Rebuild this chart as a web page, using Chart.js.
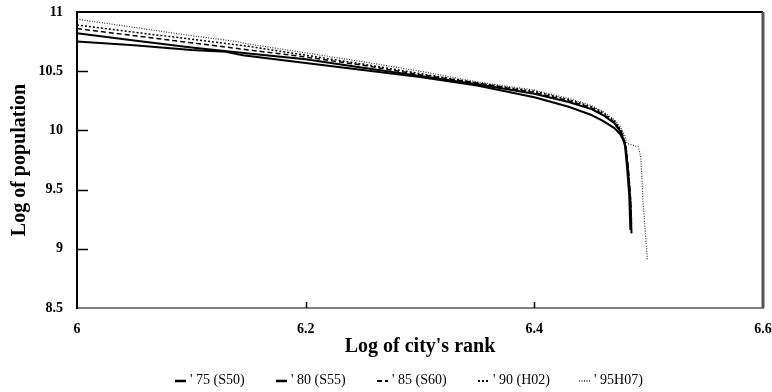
<!DOCTYPE html>
<html>
<head>
<meta charset="utf-8">
<script src="https://cdn.jsdelivr.net/npm/chart.js@4.4.1/dist/chart.umd.min.js"></script>
<style>
  html, body { margin: 0; padding: 0; background: #fff; }
  #wrap { width: 772px; height: 392px; }
</style>
</head>
<body>
<div id="wrap"><canvas id="rankChart" width="772" height="392"></canvas></div>
<script>
// log(rank) / log(population), one pair of arrays per year
const seriesLabels = ["' 75 (S50)", "' 80 (S55)", "' 85 (S60)", "' 90 (H02)", "' 95H07)"];

const rank75 = [6.00, 6.05, 6.10, 6.13, 6.145, 6.20, 6.25, 6.30, 6.35, 6.40, 6.43, 6.45, 6.46, 6.47, 6.475, 6.479, 6.481, 6.483, 6.484];
const pop75  = [10.75, 10.72, 10.68, 10.665, 10.635, 10.57, 10.51, 10.45, 10.38, 10.28, 10.20, 10.13, 10.08, 10.02, 9.97, 9.90, 9.70, 9.45, 9.16];

const rank80 = [6.00, 6.05, 6.10, 6.15, 6.20, 6.25, 6.30, 6.35, 6.40, 6.43, 6.45, 6.46, 6.47, 6.476, 6.48, 6.482, 6.484, 6.485];
const pop80  = [10.82, 10.76, 10.70, 10.65, 10.60, 10.53, 10.46, 10.39, 10.31, 10.24, 10.18, 10.13, 10.06, 9.98, 9.85, 9.65, 9.40, 9.13];

const rank85 = [6.00, 6.05, 6.10, 6.15, 6.20, 6.25, 6.30, 6.35, 6.40, 6.43, 6.45, 6.46, 6.47, 6.476, 6.48, 6.482, 6.484, 6.485];
const pop85  = [10.86, 10.80, 10.74, 10.68, 10.62, 10.55, 10.47, 10.40, 10.32, 10.25, 10.19, 10.14, 10.07, 9.99, 9.87, 9.70, 9.45, 9.20];

const rank90 = [6.00, 6.05, 6.10, 6.15, 6.20, 6.25, 6.30, 6.35, 6.40, 6.43, 6.45, 6.46, 6.47, 6.476, 6.48, 6.482, 6.484, 6.485];
const pop90  = [10.89, 10.83, 10.77, 10.71, 10.635, 10.56, 10.48, 10.40, 10.33, 10.26, 10.20, 10.15, 10.08, 10.00, 9.88, 9.70, 9.45, 9.25];

const rank95 = [6.00, 6.05, 6.10, 6.14, 6.15, 6.20, 6.25, 6.30, 6.35, 6.40, 6.43, 6.45, 6.46, 6.47, 6.475, 6.479, 6.481, 6.491, 6.493, 6.494, 6.495, 6.497, 6.499];
const pop95  = [10.94, 10.87, 10.80, 10.75, 10.73, 10.655, 10.58, 10.50, 10.41, 10.34, 10.27, 10.21, 10.16, 10.09, 10.03, 9.96, 9.89, 9.86, 9.78, 9.62, 9.40, 9.15, 8.90];

const xTicks = [6, 6.2, 6.4, 6.6];
const yTicks = [8.5, 9, 9.5, 10, 10.5, 11];

function toPoints(xs, ys) {
    return xs.map((x, i) => ({ x: x, y: ys[i] }));
}

const serifBold = { family: '"Liberation Serif", "DejaVu Serif", serif', weight: 'bold' };

// short tick marks pointing into the plot, plus the top/right frame
const frameTicks = {
    id: 'frameTicks',
    afterDraw(chart) {
        const { ctx, chartArea: a, scales } = chart;
        ctx.save();
        ctx.strokeStyle = '#000';
        ctx.lineWidth = 1.5;
        yTicks.forEach(v => {
            if (v === 11 || v === 8.5) return;
            const y = Math.round(scales.y.getPixelForValue(v)) + 0.5;
            ctx.beginPath();
            ctx.moveTo(a.left, y);
            ctx.lineTo(a.left + 11, y);
            ctx.stroke();
        });
        xTicks.forEach(v => {
            if (v === 6 || v === 6.6) return;
            const x = Math.round(scales.x.getPixelForValue(v)) + 0.5;
            ctx.beginPath();
            ctx.moveTo(x, a.bottom);
            ctx.lineTo(x, a.bottom - 6);
            ctx.stroke();
        });
        // top border
        ctx.lineWidth = 2;
        ctx.beginPath();
        ctx.moveTo(a.left, a.top);
        ctx.lineTo(a.right, a.top);
        ctx.stroke();
        // right border, greyish and heavy
        ctx.strokeStyle = '#555';
        ctx.lineWidth = 3;
        ctx.beginPath();
        ctx.moveTo(a.right, a.top);
        ctx.lineTo(a.right, a.bottom);
        ctx.stroke();
        ctx.restore();
    }
};

// legend row under the axis title
const bottomLegend = {
    id: 'bottomLegend',
    afterDraw(chart) {
        const ctx = chart.ctx;
        ctx.save();
        ctx.font = '14px "Liberation Serif", serif';
        ctx.textBaseline = 'middle';
        ctx.textAlign = 'left';
        chart.data.datasets.forEach((ds, i) => {
            const x = 175 + i * 101;
            const y = 380;
            ctx.beginPath();
            ctx.setLineDash(ds.borderDash || []);
            ctx.lineWidth = ds.borderWidth + 0.5;
            ctx.strokeStyle = ds.borderColor;
            ctx.moveTo(x, y + 1);
            ctx.lineTo(x + 11, y + 1);
            ctx.stroke();
            ctx.setLineDash([]);
            ctx.fillStyle = '#000';
            ctx.fillText(ds.label, x + 15, y);
        });
        ctx.restore();
    }
};

const chartCanvas = document.getElementById('rankChart');

new Chart(chartCanvas.getContext('2d'), {
    type: 'line',
    data: {
        datasets: [
            { label: seriesLabels[0], data: toPoints(rank75, pop75), borderColor: '#000', borderWidth: 2 },
            { label: seriesLabels[1], data: toPoints(rank80, pop80), borderColor: '#000', borderWidth: 2 },
            { label: seriesLabels[2], data: toPoints(rank85, pop85), borderColor: '#000', borderWidth: 1.5, borderDash: [5, 3] },
            { label: seriesLabels[3], data: toPoints(rank90, pop90), borderColor: '#000', borderWidth: 1.5, borderDash: [2, 2] },
            { label: seriesLabels[4], data: toPoints(rank95, pop95), borderColor: '#333', borderWidth: 1.2, borderDash: [1, 1.5] }
        ]
    },
    options: {
        responsive: false,
        animation: false,
        devicePixelRatio: 1,
        layout: { padding: { left: 0, right: 9, top: 12, bottom: 0 } },
        elements: {
            point: { radius: 0 },
            line: { tension: 0, fill: false }
        },
        plugins: {
            legend: { display: false },
            tooltip: { enabled: false }
        },
        scales: {
            x: {
                type: 'linear',
                min: 6,
                max: 6.6,
                afterFit(scale) {
                    scale.height = 84;
                    scale.paddingLeft = 0;
                    scale.paddingRight = 0;
                },
                afterBuildTicks(scale) { scale.ticks = xTicks.map(v => ({ value: v })); },
                grid: { display: false, drawTicks: false },
                border: { display: true, color: '#808080', width: 2 },
                ticks: {
                    padding: 13,
                    color: '#000',
                    font: { ...serifBold, size: 14 },
                    maxRotation: 0,
                    callback: v => String(Math.round(v * 10) / 10)
                },
                title: {
                    display: true,
                    text: "Log of city's rank",
                    color: '#000',
                    font: { ...serifBold, size: 20 },
                    padding: { top: 0, bottom: 33 }
                }
            },
            y: {
                min: 8.5,
                max: 11,
                afterFit(scale) {
                    scale.width = 77;
                    scale.paddingTop = 0;
                    scale.paddingBottom = 0;
                },
                afterBuildTicks(scale) { scale.ticks = yTicks.map(v => ({ value: v })); },
                grid: { display: false, drawTicks: false },
                border: { display: true, color: '#000', width: 2 },
                ticks: {
                    padding: 14,
                    color: '#000',
                    font: { ...serifBold, size: 14 },
                    callback: v => String(Math.round(v * 10) / 10)
                },
                title: {
                    display: true,
                    text: 'Log of population',
                    color: '#000',
                    font: { ...serifBold, size: 20 },
                    padding: { top: 8, bottom: 0 }
                }
            }
        }
    },
    plugins: [frameTicks, bottomLegend]
});
</script>
</body>
</html>
